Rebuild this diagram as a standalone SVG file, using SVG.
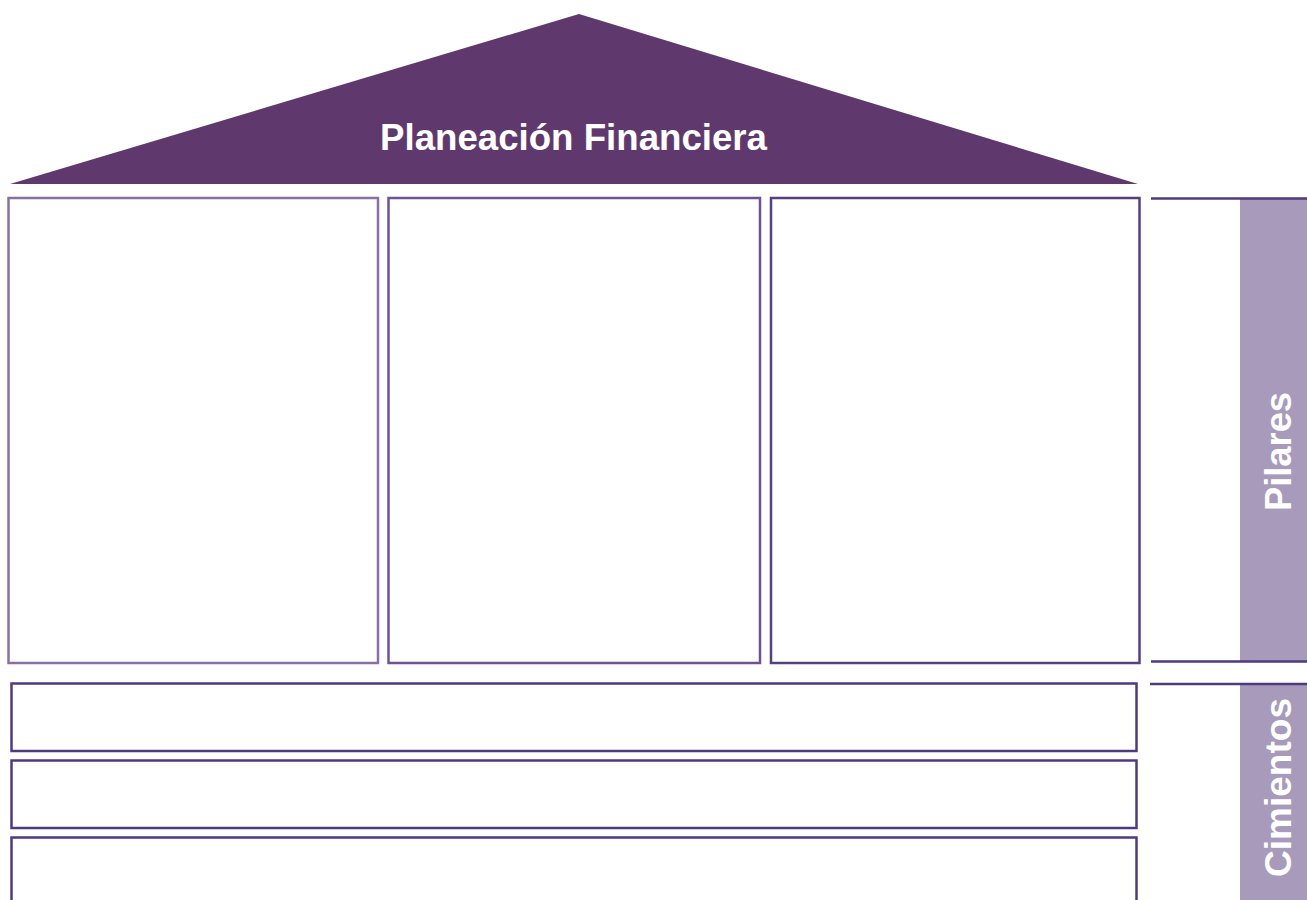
<svg xmlns="http://www.w3.org/2000/svg" width="1307" height="900" viewBox="0 0 1307 900">
<style>
.lbl{font-family:"Liberation Sans",Arial,sans-serif;font-weight:bold;fill:#ffffff}
.box{fill:#ffffff;stroke-width:2.5}
.side{fill:#a89abb}
.rule{stroke:#4f3a7e;stroke-width:2.5}
</style>
<rect width="1307" height="900" fill="#ffffff"/>
<g id="roof">
<polygon points="579,14 1138,184 10,184" fill="#5f396e"/>
<text class="lbl" x="573.5" y="150" font-size="36" text-anchor="middle" textLength="387" lengthAdjust="spacingAndGlyphs">Planeación Financiera</text>
</g>
<g id="pillar1"><rect class="box" x="8.5" y="198" width="369.5" height="465" stroke="#8670a6"/></g>
<g id="pillar2"><rect class="box" x="388.5" y="198" width="371.5" height="465" stroke="#6d5395"/></g>
<g id="pillar3"><rect class="box" x="771" y="198" width="368.5" height="465" stroke="#573f82"/></g>
<g id="foundation1"><rect class="box" x="11.5" y="683.5" width="1125" height="67.5" stroke="#4f3a80"/></g>
<g id="foundation2"><rect class="box" x="11.5" y="760.5" width="1125" height="67.5" stroke="#4f3a80"/></g>
<g id="foundation3"><rect class="box" x="11.5" y="837.5" width="1125" height="80" stroke="#4f3a80"/></g>
<g id="pilares-label">
<rect class="side" x="1240" y="198" width="67" height="463"/>
<line class="rule" x1="1151" y1="198.5" x2="1307" y2="198.5"/>
<line class="rule" x1="1151" y1="661.5" x2="1307" y2="661.5"/>
<text class="lbl" font-size="36" text-anchor="middle" textLength="119" lengthAdjust="spacingAndGlyphs" transform="translate(1291,451.5) rotate(-90)">Pilares</text>
</g>
<g id="cimientos-label">
<rect class="side" x="1240" y="684" width="67" height="216"/>
<line class="rule" x1="1150" y1="684" x2="1307" y2="684"/>
<text class="lbl" font-size="36" text-anchor="middle" textLength="179" lengthAdjust="spacingAndGlyphs" transform="translate(1291,787.5) rotate(-90)">Cimientos</text>
</g>
</svg>
